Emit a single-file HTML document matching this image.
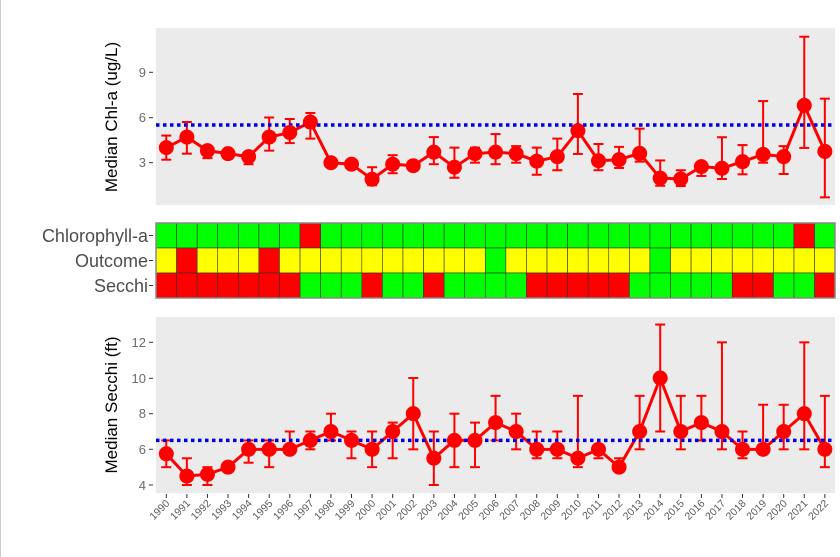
<!DOCTYPE html>
<html><head><meta charset="utf-8"><style>
body{margin:0;background:#fff;}
svg{display:block;font-family:"Liberation Sans",sans-serif;}
.tk{font-size:13px;fill:#6b6b6b;text-anchor:end;}
.yr{font-size:10.5px;fill:#5a5a5a;text-anchor:end;}
.tl{font-size:18px;fill:#4d4d4d;text-anchor:end;}
.at{font-size:17px;fill:#000;text-anchor:middle;}
</style></head><body>
<svg id="s" width="840" height="557" viewBox="0 0 840 557">
<line x1="0.5" y1="0" x2="0.5" y2="557" stroke="#ccc"/>
<rect x="156" y="28" width="679" height="177" fill="#ebebeb"/>
<rect x="156" y="317" width="679" height="176" fill="#ebebeb"/>
<g id="g"></g>
<text class="tk" x="146" y="77">9</text><text class="tk" x="146" y="122">6</text><text class="tk" x="146" y="167">3</text>
<line x1="149" y1="72.3" x2="153" y2="72.3" stroke="#333"/><line x1="149" y1="117.7" x2="153" y2="117.7" stroke="#333"/><line x1="149" y1="162.7" x2="153" y2="162.7" stroke="#333"/>
<text class="tk" x="146" y="347">12</text><text class="tk" x="146" y="383">10</text><text class="tk" x="146" y="418">8</text><text class="tk" x="146" y="454">6</text><text class="tk" x="146" y="490">4</text>
<line x1="149" y1="342.3" x2="153" y2="342.3" stroke="#333"/><line x1="149" y1="378.3" x2="153" y2="378.3" stroke="#333"/><line x1="149" y1="413.7" x2="153" y2="413.7" stroke="#333"/><line x1="149" y1="449.3" x2="153" y2="449.3" stroke="#333"/><line x1="149" y1="485" x2="153" y2="485" stroke="#333"/>
<text class="tl" x="148" y="242">Chlorophyll-a</text><text class="tl" x="148" y="267">Outcome</text><text class="tl" x="148" y="292">Secchi</text>
<line x1="149" y1="235.5" x2="153" y2="235.5" stroke="#333"/><line x1="149" y1="260.5" x2="153" y2="260.5" stroke="#333"/><line x1="149" y1="285.5" x2="153" y2="285.5" stroke="#333"/>
<text class="at" transform="translate(117,117) rotate(-90)">Median Chl-a (ug/L)</text>
<text class="at" transform="translate(117,405) rotate(-90)">Median Secchi (ft)</text>
<g id="yrs">
<text class="yr" transform="translate(170.3,504) rotate(-45)">1990</text>
<text class="yr" transform="translate(190.9,504) rotate(-45)">1991</text>
<text class="yr" transform="translate(211.5,504) rotate(-45)">1992</text>
<text class="yr" transform="translate(232.0,504) rotate(-45)">1993</text>
<text class="yr" transform="translate(252.6,504) rotate(-45)">1994</text>
<text class="yr" transform="translate(273.2,504) rotate(-45)">1995</text>
<text class="yr" transform="translate(293.8,504) rotate(-45)">1996</text>
<text class="yr" transform="translate(314.4,504) rotate(-45)">1997</text>
<text class="yr" transform="translate(334.9,504) rotate(-45)">1998</text>
<text class="yr" transform="translate(355.5,504) rotate(-45)">1999</text>
<text class="yr" transform="translate(376.1,504) rotate(-45)">2000</text>
<text class="yr" transform="translate(396.7,504) rotate(-45)">2001</text>
<text class="yr" transform="translate(417.3,504) rotate(-45)">2002</text>
<text class="yr" transform="translate(437.8,504) rotate(-45)">2003</text>
<text class="yr" transform="translate(458.4,504) rotate(-45)">2004</text>
<text class="yr" transform="translate(479.0,504) rotate(-45)">2005</text>
<text class="yr" transform="translate(499.6,504) rotate(-45)">2006</text>
<text class="yr" transform="translate(520.2,504) rotate(-45)">2007</text>
<text class="yr" transform="translate(540.7,504) rotate(-45)">2008</text>
<text class="yr" transform="translate(561.3,504) rotate(-45)">2009</text>
<text class="yr" transform="translate(581.9,504) rotate(-45)">2010</text>
<text class="yr" transform="translate(602.5,504) rotate(-45)">2011</text>
<text class="yr" transform="translate(623.1,504) rotate(-45)">2012</text>
<text class="yr" transform="translate(643.6,504) rotate(-45)">2013</text>
<text class="yr" transform="translate(664.2,504) rotate(-45)">2014</text>
<text class="yr" transform="translate(684.8,504) rotate(-45)">2015</text>
<text class="yr" transform="translate(705.4,504) rotate(-45)">2016</text>
<text class="yr" transform="translate(726.0,504) rotate(-45)">2017</text>
<text class="yr" transform="translate(746.5,504) rotate(-45)">2018</text>
<text class="yr" transform="translate(767.1,504) rotate(-45)">2019</text>
<text class="yr" transform="translate(787.7,504) rotate(-45)">2020</text>
<text class="yr" transform="translate(808.3,504) rotate(-45)">2021</text>
<text class="yr" transform="translate(828.9,504) rotate(-45)">2022</text>
</g>
</svg>
<script>
var NS="http://www.w3.org/2000/svg",g=document.getElementById('g');
function el(t,a){var e=document.createElementNS(NS,t);for(var k in a)e.setAttribute(k,a[k]);g.appendChild(e);return e;}
var W=20.58,X0=156;function X(i){return X0+W*(i+0.5);}
var chl=[[4.0,3.2,4.8],[4.7,3.6,5.7],[3.8,3.3,4.1],[3.6,3.5,3.7],[3.4,2.9,3.7],[4.7,3.8,6.0],[5.0,4.3,5.9],[5.7,4.6,6.3],[3.0,2.9,3.1],[2.9,2.6,3.1],[1.9,1.5,2.7],[2.9,2.3,3.5],[2.8,2.6,3.0],[3.7,2.9,4.7],[2.7,2.0,4.0],[3.6,3.0,4.0],[3.7,2.9,4.9],[3.6,3.0,4.1],[3.1,2.2,4.0],[3.4,2.5,4.6],[5.12,3.58,7.56],[3.13,2.5,4.24],[3.2,2.65,4.05],[3.62,3.07,5.26],[1.98,1.47,3.15],[1.92,1.45,2.5],[2.74,2.12,2.9],[2.63,1.92,4.69],[3.07,2.23,4.17],[3.55,3.0,7.09],[3.4,2.25,4.1],[6.8,3.98,11.36],[3.75,0.7,7.25]];
var sec=[[5.75,5,6.5],[4.5,4,5.5],[4.6,4,5],[5,5,5],[6,5.25,6.5],[6,5,6.5],[6,6,7],[6.5,6,7],[7,6.5,8],[6.5,5.5,7],[6,5,7],[7,5.5,7.5],[8,6,10],[5.5,4,7],[6.5,5,8],[6.5,5,7.5],[7.5,6.5,9],[7,6,8],[6,5.5,7],[6,5.5,7],[5.5,5,9],[6,5.5,6],[5,5,5.5],[7,6,9],[10,7,13],[7,6,9],[7.5,6.5,9],[7,6,12],[6,5.5,7],[6,6,8.5],[7,6,8.5],[8,6,12],[6,5,9]];
function Yc(v){return 162.7-(v-3)*15.07;}function Ys(v){return 485-(v-4)*17.83;}
function panel(d,Y,ref,yb,ticks){
 if(ticks)for(var i=0;i<33;i++){var x=X(i);el('line',{x1:x,y1:yb+1,x2:x,y2:yb+5,stroke:'#333'});}
 var p=d.map(function(r,i){return X(i)+','+Y(r[0]);}).join(' ');
 el('polyline',{points:p,fill:'none',stroke:'#f00','stroke-width':3});
 d.forEach(function(r,i){var x=X(i);if(r[2]-r[1]>0.05){el('line',{x1:x,y1:Y(r[1]),x2:x,y2:Y(r[2]),stroke:'#f00','stroke-width':2});
 el('line',{x1:x-5,y1:Y(r[1]),x2:x+5,y2:Y(r[1]),stroke:'#f00','stroke-width':2});el('line',{x1:x-5,y1:Y(r[2]),x2:x+5,y2:Y(r[2]),stroke:'#f00','stroke-width':2});}});
 el('line',{x1:156,y1:Y(ref),x2:835,y2:Y(ref),stroke:'#0000e0','stroke-width':3.5,'stroke-dasharray':'3.5 3.5'});
 d.forEach(function(r,i){el('circle',{cx:X(i),cy:Y(r[0]),r:7.5,fill:'#f00'});});
}
panel(chl,Yc,5.5,205,false);panel(sec,Ys,6.5,493,true);
var C={g:'#00ff00',y:'#ffff00',r:'#ff0000'};
var rows=["gggggggrgggggggggggggggggggggggrg","yryyyryyyyyyyyyygyyyyyyygyyyyyyyy","rrrrrrrgggrggrggggrrrrrgggggrrggr"];
rows.forEach(function(s,j){for(var i=0;i<33;i++)el('rect',{x:X0+W*i,y:223+25*j,width:W,height:25,fill:C[s[i]],stroke:'#333','stroke-width':0.6});});
el('rect',{x:156,y:223,width:679,height:75,fill:'none',stroke:'#888','stroke-width':1.5});
</script>
</body></html>
